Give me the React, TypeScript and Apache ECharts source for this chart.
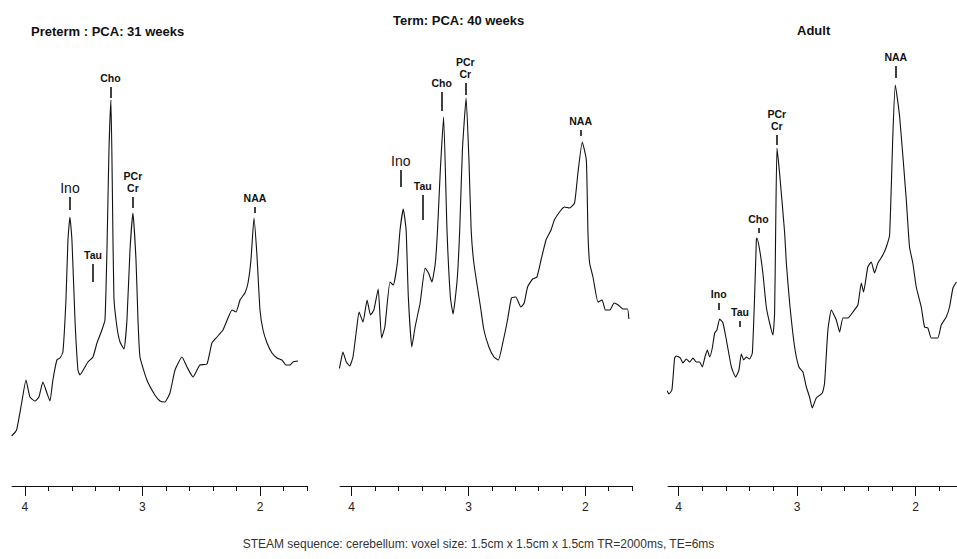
import React, { useEffect, useRef } from "react";
import * as echarts from "echarts";

// ---- Data (ppm, intensity in arbitrary units) ----
const pretermPpm = [4.113, 4.071, 4.028, 3.991, 3.957, 3.915, 3.881, 3.847, 3.813, 3.787, 3.762, 3.728, 3.702, 3.677, 3.651, 3.634, 3.617, 3.6, 3.574, 3.549, 3.532, 3.489, 3.464, 3.421, 3.387, 3.345, 3.319, 3.302, 3.285, 3.268, 3.255, 3.243, 3.217, 3.191, 3.157, 3.132, 3.106, 3.081, 3.055, 3.038, 3.021, 2.962, 2.894, 2.851, 2.809, 2.766, 2.723, 2.664, 2.621, 2.57, 2.536, 2.511, 2.451, 2.409, 2.366, 2.315, 2.272, 2.238, 2.204, 2.17, 2.128, 2.102, 2.077, 2.051, 2.026, 2.0, 1.974, 1.94, 1.898, 1.855, 1.813, 1.779, 1.745, 1.719, 1.677];
const pretermIntensity = [50, 56, 83, 106, 89, 85, 89, 104, 93, 85, 106, 126, 128, 134, 186, 246, 269, 246, 166, 116, 111, 119, 124, 129, 143, 156, 166, 236, 336, 386, 286, 189, 159, 144, 137, 166, 236, 273, 226, 166, 129, 106, 91, 85, 84, 93, 116, 129, 119, 109, 116, 121, 122, 143, 149, 156, 168, 176, 174, 186, 193, 203, 226, 268, 231, 176, 156, 143, 133, 128, 126, 121, 121, 124, 125];

const termPpm = [4.155, 4.127, 4.103, 4.075, 4.046, 4.017, 3.989, 3.959, 3.937, 3.903, 3.868, 3.839, 3.81, 3.773, 3.744, 3.716, 3.672, 3.644, 3.609, 3.586, 3.558, 3.534, 3.515, 3.485, 3.457, 3.414, 3.371, 3.342, 3.313, 3.284, 3.265, 3.241, 3.213, 3.184, 3.155, 3.132, 3.097, 3.075, 3.052, 3.02, 2.996, 2.977, 2.954, 2.897, 2.868, 2.825, 2.782, 2.744, 2.701, 2.666, 2.632, 2.595, 2.552, 2.523, 2.494, 2.451, 2.414, 2.379, 2.336, 2.293, 2.265, 2.207, 2.178, 2.135, 2.092, 2.063, 2.026, 1.991, 1.977, 1.963, 1.934, 1.891, 1.856, 1.828, 1.79, 1.753, 1.718, 1.675, 1.638, 1.627];
const termIntensity = [96, 114, 119, 134, 124, 120, 129, 156, 174, 164, 186, 171, 176, 197, 148, 159, 204, 201, 223, 256, 277, 256, 189, 139, 159, 183, 218, 213, 204, 223, 256, 316, 369, 256, 189, 172, 206, 256, 336, 388, 326, 256, 223, 179, 156, 139, 129, 126, 146, 166, 188, 189, 179, 183, 199, 207, 209, 226, 246, 256, 266, 276, 279, 278, 283, 313, 344, 326, 253, 223, 209, 184, 186, 176, 176, 183, 181, 177, 177, 167];

const adultPpm = [4.146, 4.127, 4.104, 4.082, 4.057, 4.034, 4.019, 3.986, 3.964, 3.935, 3.907, 3.879, 3.851, 3.823, 3.8, 3.778, 3.758, 3.738, 3.716, 3.696, 3.677, 3.654, 3.626, 3.597, 3.555, 3.519, 3.491, 3.471, 3.451, 3.429, 3.401, 3.378, 3.359, 3.344, 3.339, 3.316, 3.289, 3.26, 3.232, 3.204, 3.19, 3.181, 3.17, 3.148, 3.105, 3.091, 3.063, 3.021, 2.985, 2.951, 2.922, 2.895, 2.872, 2.838, 2.787, 2.768, 2.74, 2.711, 2.669, 2.641, 2.613, 2.571, 2.529, 2.487, 2.458, 2.439, 2.403, 2.374, 2.346, 2.318, 2.276, 2.247, 2.219, 2.191, 2.171, 2.134, 2.078, 2.051, 2.023, 1.994, 1.952, 1.924, 1.896, 1.867, 1.812, 1.783, 1.741, 1.713, 1.684, 1.655];
const adultIntensity = [84, 93, 96, 92, 96, 128, 130, 128, 123, 127, 124, 128, 124, 124, 119, 129, 136, 129, 138, 153, 156, 167, 163, 146, 119, 109, 116, 132, 126, 129, 127, 133, 189, 246, 248, 236, 213, 179, 163, 151, 173, 256, 338, 313, 253, 223, 183, 139, 119, 114, 99, 89, 78, 88, 93, 103, 156, 176, 166, 154, 168, 168, 174, 181, 203, 194, 219, 224, 213, 223, 231, 239, 251, 353, 401, 369, 286, 239, 223, 199, 179, 159, 158, 148, 148, 161, 169, 179, 198, 204];

// Peak annotations
const peakNames = ["Ino", "Tau", "Cho", "PCr\nCr", "NAA"];
const pretermPeakPpm = [3.617, 3.421, 3.272, 3.081, 2.043];
const pretermTickLow = [276, 204, 388, 278, 273];
const pretermTickHigh = [289, 222, 399, 289, 279];
const termPeakPpm = [3.58, 3.392, 3.229, 3.027, 2.04];
const termTickLow = [299, 266, 375, 391, 350];
const termTickHigh = [316, 291, 394, 403, 356];
const adultPeakPpm = [3.662, 3.482, 3.327, 3.172, 2.167];
const adultTickLow = [176, 159, 253, 341, 408];
const adultTickHigh = [183, 165, 258, 351, 420];

// Axis ticks (ppm)
const majorTicks = [4, 3, 2];
const minorTicks = [1.6, 1.8, 2.2, 2.4, 2.6, 2.8, 3.2, 3.4, 3.6, 3.8];

const panelTitles = ["Preterm : PCA: 31 weeks", "Term: PCA: 40 weeks", "Adult"];
const footerText = "STEAM sequence: cerebellum: voxel size: 1.5cm x 1.5cm x 1.5cm TR=2000ms, TE=6ms";

const FONT = "'Liberation Sans', Arial, sans-serif";

export default function App() {
  const ref = useRef<HTMLDivElement>(null);
  useEffect(() => {
    if (!ref.current) return;
    const chart = echarts.init(ref.current, undefined, { renderer: "svg" });

    const layouts = [
      { left: 12, width: 295, min: 1.6, max: 4.11 },
      { left: 340, width: 292, min: 1.6, max: 4.1 },
      { left: 668, width: 289, min: 1.65, max: 4.09 },
    ];
    const spectra = [
      { ppm: pretermPpm, y: pretermIntensity, pk: pretermPeakPpm, lo: pretermTickLow, hi: pretermTickHigh },
      { ppm: termPpm, y: termIntensity, pk: termPeakPpm, lo: termTickLow, hi: termTickHigh },
      { ppm: adultPpm, y: adultIntensity, pk: adultPeakPpm, lo: adultTickLow, hi: adultTickHigh },
    ];

    const grid: any[] = [];
    const xAxis: any[] = [];
    const yAxis: any[] = [];
    const series: any[] = [];

    layouts.forEach((L, i) => {
      grid.push({ left: L.left, width: L.width, top: 40, height: 446 });
      xAxis.push({
        type: "value",
        gridIndex: i,
        min: L.min,
        max: L.max,
        inverse: true,
        position: "bottom",
        splitLine: { show: false },
        axisLine: { show: true, onZero: false, lineStyle: { color: "#111", width: 1 } },
        axisTick: { show: true, length: 10, customValues: majorTicks, lineStyle: { color: "#111", width: 1 } },
        axisLabel: {
          show: true,
          customValues: majorTicks,
          margin: 15,
          fontSize: 12,
          fontFamily: FONT,
          color: "#222",
          formatter: (v: number) => String(Math.round(v)),
        },
      });
      xAxis.push({
        type: "value",
        gridIndex: i,
        min: L.min,
        max: L.max,
        inverse: true,
        position: "bottom",
        splitLine: { show: false },
        axisLine: { show: false, onZero: false },
        axisTick: {
          show: true,
          length: 5,
          customValues: minorTicks.filter((t) => t >= L.min && t <= L.max),
          lineStyle: { color: "#111", width: 1 },
        },
        axisLabel: { show: false },
      });
      yAxis.push({ type: "value", gridIndex: i, min: 0, max: 446, show: false, splitLine: { show: false } });

      const S = spectra[i];
      const markData = peakNames.map((name, k) => [
        {
          coord: [S.pk[k], S.lo[k]],
          name,
          label: {
            fontSize: k === 0 && i < 2 ? 14 : 10.5,
            fontWeight: k === 0 && i < 2 ? "normal" : "bold",
          },
        },
        { coord: [S.pk[k], S.hi[k]] },
      ]);

      series.push({
        type: "line",
        xAxisIndex: i * 2,
        yAxisIndex: i,
        data: S.ppm.map((p, k) => [p, S.y[k]]),
        showSymbol: false,
        symbol: "none",
        smooth: 0.15,
        clip: false,
        lineStyle: { color: "#111", width: 1.1 },
        silent: true,
        markLine: {
          silent: true,
          symbol: ["none", "none"],
          lineStyle: { color: "#111", width: 1.6, type: "solid" },
          label: {
            show: true,
            position: "end",
            distance: 3,
            formatter: "{b}",
            color: "#111",
            fontFamily: FONT,
            lineHeight: 12,
          },
          data: markData,
        },
      });
    });

    const titleStyle = { fontSize: 13, fontWeight: "bold", color: "#111", fontFamily: FONT };
    chart.setOption({
      animation: false,
      backgroundColor: "#ffffff",
      title: [
        { text: panelTitles[0], left: 31, top: 25, padding: 0, textStyle: titleStyle },
        { text: panelTitles[1], left: 393, top: 14, padding: 0, textStyle: titleStyle },
        { text: panelTitles[2], left: 797, top: 24, padding: 0, textStyle: titleStyle },
        {
          text: footerText,
          left: "center",
          top: 538,
          padding: 0,
          textStyle: { fontSize: 12, fontWeight: "normal", color: "#333", fontFamily: FONT },
        },
      ],
      grid,
      xAxis,
      yAxis,
      series,
    });

    return () => chart.dispose();
  }, []);

  return (
    <div
      ref={ref}
      style={{ position: "fixed", left: 0, top: 0, width: 957, height: 559, background: "#fff" }}
    />
  );
}
